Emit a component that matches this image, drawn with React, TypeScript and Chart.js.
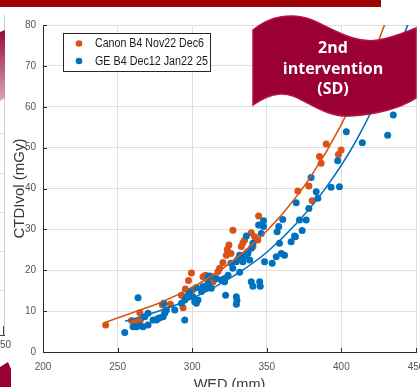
import React, { useEffect, useRef } from "react";
import { Chart, registerables } from "chart.js";
Chart.register(...registerables);

// ---------- data ----------
const seriesLabels = ["Canon B4 Nov22 Dec6", "GE B4 Dec12 Jan22 25"];
const xTitle = "WED (mm)";
const yTitle = "CTDIvol (mGy)";
const bannerLines = ["2nd", "intervention", "(SD)"];

const canonX = [242, 259.3, 261.5, 264.9, 265.3, 280, 285.4, 292.8, 293.9, 295.4, 297.5, 299.5, 300.5, 307.3, 308.8, 309.5, 311.7, 314, 314, 317.3, 318.4, 320.6, 322.9, 323.5, 324.6, 326, 327.3, 332.9, 333, 334, 335.1, 337.3, 339.6, 340.7, 341.8, 344, 344.5, 370.8, 378.2, 380.4, 385.3, 386.4, 389.8, 398, 399.8];
const canonY = [6.6, 7.7, 7.4, 9.6, 7.8, 11.5, 11.7, 13.9, 10.8, 15.4, 17.5, 19.3, 15.2, 18.4, 18.8, 18.6, 17.6, 18.4, 17.2, 19.7, 20.5, 21.9, 23.7, 25.1, 26.2, 24.1, 29.8, 25.8, 22.9, 26.7, 27.4, 24.5, 29.2, 25.8, 28.2, 27.4, 33.3, 39.4, 40.6, 37.0, 47.8, 46.2, 50.9, 48.3, 49.4];

const geX = [254.8, 260.4, 262.6, 263.7, 265, 267.1, 268.2, 270.4, 270.4, 273.8, 276, 277.1, 278.3, 280.5, 280.9, 281.6, 282.7, 288.3, 292.8, 295, 295, 296, 297.2, 298.3, 300.5, 301.7, 302.8, 302.8, 303.9, 306.2, 306.2, 307.2, 308.4, 309.5, 310.6, 310.6, 311.7, 312.8, 316.2, 319.5, 321.7, 321.7, 322.4, 324, 326, 327.2, 329.6, 329.6, 330, 329.6, 330.6, 331.8, 331.8, 334, 335.1, 336.3, 337.3, 338.5, 339.6, 339.6, 340.7, 340.7, 344.5, 345.2, 345.6, 346.3, 347.8, 347.8, 348.5, 353.6, 356.3, 356.9, 358, 358.5, 359.7, 360.7, 361.9, 366.3, 368.6, 369.2, 369.7, 371.9, 373.7, 376.4, 378.2, 379.7, 383.1, 384.2, 393.1, 398.7, 397.5, 403.3, 414, 431, 434.8];
const geY = [4.8, 6.2, 6.2, 13.3, 6.4, 6.2, 8.6, 6.6, 9.5, 7.8, 7.8, 8.2, 8.4, 8.6, 11.9, 9.5, 10.3, 10.3, 11.9, 7.8, 12.7, 13.2, 13.9, 14.8, 13.5, 12.3, 11.9, 15.8, 12.7, 14.8, 15.2, 16, 15.6, 15.6, 16.8, 18.4, 18.6, 15.6, 18, 17.6, 17.2, 18, 13.9, 18.8, 21.7, 20.5, 13.5, 11.7, 12.6, 22.1, 22.7, 23.7, 19.5, 22.1, 23.5, 28.4, 24.1, 22.5, 25.4, 17.2, 26.6, 16.1, 31.1, 17.2, 16.1, 29, 32.1, 30.7, 22.1, 21.7, 23.3, 29.4, 30.7, 26.6, 24.1, 32.4, 23.7, 27, 28.4, 28.2, 36.5, 32.3, 29.7, 32.3, 35.1, 42.7, 39.2, 37.6, 40.3, 40.4, 46.8, 53.9, 51.2, 53, 58];

// fitted curves
const canonFitX = [242, 260, 280, 300, 320, 340, 360, 380, 400, 420, 432];
const canonFitY = [7.3, 9.6, 12.3, 15.8, 20.3, 26.2, 33.6, 43.2, 55.7, 71.6, 83];
const geFitX = [255, 270, 290, 310, 330, 350, 370, 390, 410, 430, 445];
const geFitY = [7.5, 9.1, 11.6, 14.9, 19.1, 24.4, 31.5, 40.4, 51.8, 66.6, 80.5];

const xMin = 200, xMax = 450, xStep = 50;
const yMin = 0, yMax = 80, yStep = 10;

const ORANGE = "#D95319";
const BLUE = "#0072BD";
const FONT = "'Liberation Sans', Arial, Helvetica, sans-serif";

const toPts = (xs: number[], ys: number[]) => xs.map((x, i) => ({ x, y: ys[i] }));

const inwardTicks = {
  id: "inwardTicks",
  afterDraw(chart: any) {
    const { ctx, chartArea, scales } = chart;
    ctx.save();
    ctx.strokeStyle = "#2b2b2b";
    ctx.lineWidth = 1;
    scales.x.ticks.forEach((t: any) => {
      const px = Math.round(scales.x.getPixelForValue(t.value)) + 0.5;
      ctx.beginPath();
      ctx.moveTo(px, chartArea.bottom);
      ctx.lineTo(px, chartArea.bottom - 4);
      ctx.stroke();
    });
    scales.y.ticks.forEach((t: any) => {
      const py = Math.round(scales.y.getPixelForValue(t.value)) + 0.5;
      ctx.beginPath();
      ctx.moveTo(chartArea.left, py);
      ctx.lineTo(chartArea.left + 4, py);
      ctx.stroke();
    });
    ctx.restore();
  },
};

const legendBox = {
  id: "legendBox",
  afterDraw(chart: any) {
    const { ctx, chartArea } = chart;
    const bx = Math.round(chartArea.left) + 20.5;
    const by = Math.round(chartArea.top) + 8.5;
    const bw = 147, bh = 38;
    ctx.save();
    ctx.fillStyle = "#ffffff";
    ctx.fillRect(bx, by, bw, bh);
    ctx.strokeStyle = "#262626";
    ctx.lineWidth = 1;
    ctx.strokeRect(bx, by, bw, bh);
    const colors = [ORANGE, BLUE];
    const widths = [109, 113];
    seriesLabels.forEach((lab, i) => {
      const cy = by + 10 + i * 17.5;
      ctx.fillStyle = colors[i];
      ctx.beginPath();
      ctx.arc(bx + 15.5, cy, 3.3, 0, Math.PI * 2);
      ctx.fill();
      ctx.fillStyle = "#1a1a1a";
      ctx.font = `12.5px ${FONT}`;
      ctx.textBaseline = "middle";
      ctx.textAlign = "left";
      ctx.fillText(lab, bx + 31.5, cy + 0.5, widths[i]);
    });
    ctx.restore();
  },
};

export default function App() {
  const ref = useRef<HTMLCanvasElement | null>(null);
  useEffect(() => {
    if (!ref.current) return;
    const chart = new Chart(ref.current, {
      type: "scatter",
      data: {
        datasets: [
          {
            type: "line",
            label: "Canon fit",
            data: toPts(canonFitX, canonFitY),
            borderColor: ORANGE,
            borderWidth: 1.6,
            pointRadius: 0,
            cubicInterpolationMode: "monotone",
            fill: false,
            order: 0,
          } as any,
          {
            type: "line",
            label: "GE fit",
            data: toPts(geFitX, geFitY),
            borderColor: BLUE,
            borderWidth: 1.6,
            pointRadius: 0,
            cubicInterpolationMode: "monotone",
            fill: false,
            order: 0,
          } as any,
          {
            label: seriesLabels[1],
            data: toPts(geX, geY),
            backgroundColor: BLUE,
            borderWidth: 0,
            pointRadius: 3.5,
            order: 1,
          },
          {
            label: seriesLabels[0],
            data: toPts(canonX, canonY),
            backgroundColor: ORANGE,
            borderWidth: 0,
            pointRadius: 3.5,
            order: 2,
          },
        ],
      },
      options: {
        animation: false,
        responsive: false,
        devicePixelRatio: 1,
        layout: { padding: { left: 0, top: 25, right: 2.5, bottom: 0 } },
        plugins: { legend: { display: false }, tooltip: { enabled: false } },
        scales: {
          x: {
            type: "linear",
            min: xMin,
            max: xMax,
            afterFit: (s: any) => {
              s.height = 48;
              s.paddingLeft = 0;
              s.paddingRight = 0;
            },
            grid: { color: "#dfdfdf", drawTicks: false },
            border: { color: "#2b2b2b", width: 1 },
            ticks: {
              stepSize: xStep,
              padding: 9,
              color: "#555555",
              font: { family: FONT, size: 10 },
              maxRotation: 0,
              autoSkip: false,
            },
            title: {
              display: true,
              text: xTitle,
              color: "#3a3a3a",
              font: { family: FONT, size: 14.5 },
              padding: { top: 0, bottom: 6 },
            },
          },
          y: {
            type: "linear",
            min: yMin,
            max: yMax,
            afterFit: (s: any) => {
              s.width = 43;
              s.paddingTop = 0;
              s.paddingBottom = 0;
            },
            grid: { color: "#dfdfdf", drawTicks: false },
            border: { color: "#2b2b2b", width: 1 },
            ticks: {
              stepSize: yStep,
              padding: 7,
              color: "#555555",
              font: { family: FONT, size: 10 },
            },
            title: {
              display: true,
              text: yTitle,
              color: "#3a3a3a",
              font: { family: FONT, size: 15 },
              padding: { top: 11, bottom: 0 },
            },
          },
        },
      } as any,
      plugins: [inwardTicks, legendBox],
    });
    return () => chart.destroy();
  }, []);

  const leftGrid = [54, 94, 133, 173, 212, 251, 290];

  return (
    <div
      style={{
        position: "fixed",
        left: 0,
        top: 0,
        width: 420,
        height: 387,
        overflow: "hidden",
        background: "#ffffff",
      }}
    >
      <canvas ref={ref} width={420} height={400} style={{ display: "block" }} />
      <svg
        width={420}
        height={387}
        style={{ position: "absolute", left: 0, top: 0, pointerEvents: "none" }}
      >
        <defs>
          <linearGradient id="leftRed" x1="0" y1="0" x2="0" y2="1">
            <stop offset="0" stopColor="#980a38" />
            <stop offset="1" stopColor="#d8a9b8" />
          </linearGradient>
        </defs>
        {/* top bar */}
        <rect x={0} y={0} width={381} height={7} fill="#9c0303" />
        {/* neighbouring chart fragment on the left */}
        <line x1={4.5} y1={15} x2={4.5} y2={336} stroke="#cfcfcf" strokeWidth={1} />
        {leftGrid.map((y) => (
          <line key={y} x1={0} y1={y + 0.5} x2={4} y2={y + 0.5} stroke="#dcdcdc" strokeWidth={1} />
        ))}
        <path d="M0,32 L5,30 L5,98 L0,101 Z" fill="url(#leftRed)" />
        <line x1={3.5} y1={326} x2={3.5} y2={336} stroke="#444" strokeWidth={1} />
        <line x1={0} y1={335.5} x2={5} y2={335.5} stroke="#444" strokeWidth={1} />
        <text x={0} y={348} fontFamily={FONT} fontSize={10} fill="#4d4d4d">
          50
        </text>
        <path d="M0,367 L8,362 L11,369 L11,387 L0,387 Z" fill="#9b0035" />
        {/* banner */}
        <path
          d="M253,30 C270,16 292,12 312,20 C335,30 355,44 378,40 C395,37 405,32 416,28 L416,98 C400,108 380,114 350,116 C320,118 300,92 280,94 C268,95 260,100 253,105 Z"
          fill="#9b0035"
          stroke="#b5123f"
          strokeWidth={1.5}
        />
        {bannerLines.map((t, i) => (
          <text
            key={t}
            x={333}
            y={53 + i * 20.7}
            textAnchor="middle"
            fontFamily="'Open Sans', 'Liberation Sans', sans-serif"
            fontWeight="bold"
            fontSize={16}
            fill="#ffffff"
          >
            {t}
          </text>
        ))}
      </svg>
    </div>
  );
}
